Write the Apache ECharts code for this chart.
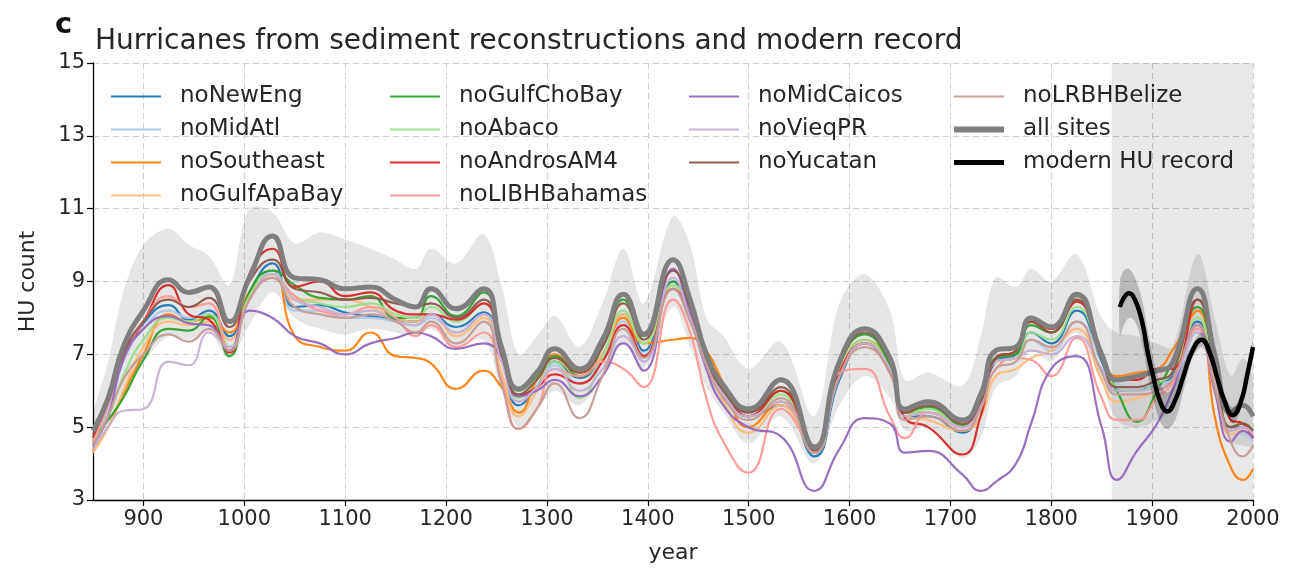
<!DOCTYPE html>
<html><head><meta charset="utf-8">
<script src="https://cdn.jsdelivr.net/npm/echarts@6/dist/echarts.min.js"></script>
<style>html,body{margin:0;padding:0;background:#fff}#c{width:1293px;height:572px}</style>
</head><body><div id="c"></div>
<script>
const years = [850, 865, 880, 900, 925, 945, 965, 985, 1005, 1028, 1050, 1075, 1100, 1125, 1150, 1170, 1185, 1210, 1237, 1255, 1272, 1290, 1308, 1332, 1355, 1376, 1396, 1425, 1442, 1458, 1475, 1500, 1532, 1565, 1590, 1615, 1640, 1655, 1678, 1712, 1730, 1745, 1765, 1780, 1800, 1825, 1850, 1865, 1885, 1905, 1920, 1945, 1962, 1978, 1990, 2000];

const allSites = [4.9, 5.8, 7.2, 8.2, 9.05, 8.7, 8.85, 7.9, 9.1, 10.25, 9.1, 9.05, 8.8, 8.85, 8.5, 8.3, 8.8, 8.25, 8.8, 7.2, 6.05, 6.5, 7.15, 6.6, 7.4, 8.65, 7.55, 9.6, 8.5, 7.0, 6.15, 5.5, 6.3, 4.45, 6.8, 7.7, 6.9, 5.5, 5.7, 5.2, 5.9, 7.1, 7.2, 8.0, 7.75, 8.65, 7.0, 6.3, 6.4, 6.55, 6.75, 8.8, 7.0, 5.4, 5.6, 5.3];
const bandUpper = [5.3, 6.8, 8.7, 10.0, 10.45, 10.0, 9.7, 8.9, 11.0, 10.9, 10.05, 10.35, 10.15, 9.9, 9.6, 9.35, 9.9, 9.5, 10.3, 8.9, 7.0, 7.5, 8.05, 7.2, 8.4, 9.9, 8.4, 10.8, 10.0, 8.0, 7.5, 6.6, 7.35, 5.3, 8.4, 9.2, 8.2, 6.3, 6.5, 6.15, 7.5, 9.1, 8.85, 9.35, 9.0, 9.75, 8.0, 7.6, 7.5, 7.3, 7.2, 9.75, 8.0, 6.4, 6.9, 6.3];
const bandLower = [4.4, 5.0, 6.0, 6.8, 7.5, 7.4, 7.6, 6.9, 7.8, 8.7, 8.0, 7.7, 7.55, 7.7, 7.6, 7.5, 7.7, 7.2, 7.4, 6.0, 5.0, 5.5, 6.0, 5.6, 6.4, 7.3, 6.6, 8.3, 7.2, 6.1, 5.4, 4.55, 5.3, 4.0, 5.6, 6.4, 5.8, 4.9, 5.0, 4.15, 4.7, 6.1, 6.4, 7.1, 6.8, 7.6, 6.2, 5.2, 5.0, 5.2, 5.5, 7.6, 6.0, 4.6, 4.5, 4.5];

const noNewEng = [4.6, 5.6, 6.9, 7.85, 8.35, 7.95, 8.2, 7.5, 8.7, 9.5, 8.3, 8.35, 8.15, 8.05, 7.95, 7.9, 8.1, 7.75, 8.15, 6.9, 5.6, 6.1, 6.8, 6.35, 7.0, 8.1, 7.1, 9.0, 8.0, 6.8, 5.9, 5.3, 5.6, 4.2, 6.3, 7.3, 6.6, 5.3, 5.3, 4.85, 5.6, 6.8, 7.0, 7.6, 7.3, 8.2, 6.8, 6.0, 6.0, 6.2, 6.4, 7.9, 6.5, 5.0, 5.0, 4.9];
const noMidAtl = [4.6, 5.5, 6.8, 7.7, 8.2, 8.0, 8.1, 7.4, 8.5, 9.3, 8.2, 8.2, 8.0, 8.0, 7.9, 7.8, 8.0, 7.6, 8.1, 6.9, 5.7, 6.1, 6.7, 6.2, 6.9, 7.9, 7.0, 8.8, 7.9, 6.8, 5.9, 5.3, 5.7, 4.3, 6.4, 7.3, 6.6, 5.3, 5.4, 5.0, 5.6, 6.8, 6.9, 7.4, 7.1, 7.9, 6.9, 6.2, 6.1, 6.2, 6.3, 7.6, 6.3, 4.8, 4.8, 4.6];
const noSoutheast = [4.35, 5.0, 5.9, 7.0, 8.1, 7.9, 8.0, 7.6, 8.7, 9.2, 7.5, 7.2, 7.1, 7.6, 6.95, 6.9, 6.75, 6.05, 6.55, 6.1, 5.4, 6.3, 7.0, 6.5, 7.0, 8.0, 7.3, 7.4, 7.45, 7.1, 6.2, 5.0, 5.7, 4.3, 6.5, 7.4, 6.7, 5.4, 5.4, 5.0, 5.7, 6.9, 7.1, 7.9, 7.6, 8.5, 7.0, 6.4, 6.5, 6.6, 7.1, 8.2, 5.3, 3.9, 3.55, 3.85];
const noGulfApaBay = [4.3, 5.0, 6.0, 7.2, 7.9, 7.8, 7.9, 7.4, 8.6, 9.2, 8.5, 8.5, 8.5, 8.3, 8.0, 7.9, 8.1, 7.5, 8.0, 6.5, 5.3, 6.0, 6.9, 6.4, 7.0, 8.1, 7.3, 8.9, 8.0, 6.8, 5.7, 4.85, 5.6, 4.3, 6.4, 7.3, 6.6, 5.3, 5.2, 4.9, 5.3, 6.4, 6.6, 6.9, 7.1, 7.7, 6.3, 5.7, 5.8, 6.0, 6.3, 8.0, 6.3, 4.8, 4.9, 4.7];
const noGulfChoBay = [4.7, 5.2, 5.8, 6.85, 7.7, 7.65, 8.05, 6.95, 8.7, 9.3, 8.9, 8.55, 8.5, 8.6, 8.0, 8.0, 8.6, 8.05, 8.7, 7.1, 6.0, 6.4, 6.95, 6.4, 7.2, 8.5, 7.5, 9.0, 8.3, 7.1, 6.1, 5.45, 6.0, 4.35, 6.7, 7.55, 6.7, 5.4, 5.55, 5.05, 5.7, 6.9, 7.0, 7.8, 7.6, 8.6, 6.9, 6.0, 5.15, 6.0, 6.8, 8.3, 6.6, 5.0, 5.1, 4.9];
const noAbaco = [4.6, 5.3, 6.4, 7.4, 8.0, 7.9, 8.1, 7.2, 8.6, 9.2, 8.6, 8.4, 8.3, 8.4, 8.1, 8.0, 8.3, 7.9, 8.4, 7.0, 5.8, 6.3, 6.8, 5.8, 6.9, 8.2, 7.3, 8.9, 8.1, 6.9, 6.0, 5.3, 5.9, 4.3, 6.5, 7.4, 6.6, 5.3, 5.5, 5.0, 5.6, 6.8, 6.9, 7.6, 7.4, 8.3, 6.9, 6.1, 6.0, 6.2, 6.5, 8.0, 6.5, 5.0, 5.1, 4.9];
const noAndrosAM4 = [4.7, 5.8, 6.9, 7.9, 8.9, 8.1, 7.95, 7.05, 9.2, 9.9, 8.85, 9.0, 8.6, 8.7, 8.2, 8.1, 8.1, 7.95, 8.4, 7.0, 5.85, 6.1, 6.45, 6.2, 6.8, 7.8, 6.95, 8.8, 8.1, 6.9, 6.1, 5.3, 6.0, 4.3, 6.5, 7.3, 6.5, 5.25, 5.0, 4.25, 5.3, 6.9, 7.1, 7.9, 7.7, 8.45, 6.9, 6.3, 6.3, 6.6, 6.6, 8.5, 6.8, 5.2, 5.1, 4.7];
const noLIBHBahamas = [4.6, 5.6, 6.9, 7.9, 8.6, 8.3, 8.4, 7.1, 8.5, 9.1, 8.6, 8.2, 8.1, 8.3, 8.0, 7.5, 7.8, 7.2, 7.6, 6.3, 4.95, 5.5, 6.6, 6.4, 6.8, 6.6, 6.1, 8.5, 7.6, 5.8, 4.6, 3.75, 5.5, 4.5, 6.5, 6.6, 5.3, 4.7, 5.4, 5.0, 5.7, 6.6, 6.9, 6.85, 6.4, 7.45, 5.8, 5.2, 5.2, 5.8, 6.2, 7.7, 6.0, 4.9, 5.0, 4.8];
const noMidCaicos = [4.5, 5.3, 6.85, 7.7, 8.05, 7.85, 7.8, 7.1, 8.2, 8.0, 7.5, 7.3, 7.0, 7.3, 7.45, 7.6, 7.5, 7.15, 7.3, 6.9, 5.85, 6.0, 6.3, 5.85, 6.4, 7.3, 6.55, 9.35, 8.1, 6.6, 5.6, 5.0, 4.75, 3.25, 4.4, 5.25, 5.1, 4.3, 4.35, 3.7, 3.25, 3.5, 4.0, 5.1, 6.6, 6.95, 5.0, 3.55, 4.35, 5.1, 6.0, 7.8, 6.0, 4.6, 4.9, 4.7];
const noVieqPR = [4.4, 5.0, 5.45, 5.5, 6.8, 6.7, 7.6, 7.2, 8.5, 9.2, 8.5, 8.3, 8.1, 8.2, 7.9, 7.8, 8.1, 7.6, 8.1, 6.8, 5.7, 6.1, 6.6, 6.0, 6.6, 7.5, 6.8, 9.1, 8.0, 6.8, 5.9, 5.3, 5.7, 4.3, 6.4, 7.3, 6.6, 5.3, 5.4, 5.0, 5.6, 6.8, 6.9, 7.1, 7.0, 7.5, 6.6, 6.0, 6.0, 6.1, 6.3, 7.6, 6.2, 4.9, 5.0, 4.8];
const noYucatan = [4.8, 5.7, 7.0, 7.9, 8.5, 8.3, 8.55, 7.75, 9.0, 9.6, 8.8, 8.7, 8.5, 8.55, 8.4, 8.3, 8.4, 8.0, 8.5, 7.0, 5.9, 6.3, 6.9, 6.5, 7.2, 8.4, 7.4, 9.3, 8.3, 6.9, 6.0, 5.4, 6.1, 4.35, 6.7, 7.6, 6.8, 5.4, 5.6, 5.1, 5.7, 6.9, 7.1, 7.9, 7.6, 8.5, 6.9, 6.1, 6.1, 6.3, 6.5, 8.5, 6.7, 5.0, 5.1, 4.9];
const noLRBHBelize = [4.5, 5.3, 6.3, 7.0, 7.55, 7.35, 7.7, 7.1, 8.5, 9.1, 8.3, 8.1, 8.0, 8.1, 7.9, 7.6, 7.9, 7.3, 7.9, 6.2, 4.95, 5.5, 6.2, 5.25, 6.4, 7.7, 6.9, 8.8, 7.9, 6.7, 5.8, 5.2, 5.8, 4.3, 6.4, 7.2, 6.5, 5.2, 5.3, 4.9, 5.5, 6.6, 6.8, 7.4, 7.2, 7.9, 6.5, 5.9, 5.9, 6.0, 6.3, 7.8, 6.1, 4.6, 4.2, 4.5];

const modernYears = [1868, 1872, 1877, 1883, 1890, 1896, 1901, 1908, 1915, 1923, 1931, 1940, 1949, 1957, 1964, 1972, 1980, 1988, 1994, 2000];
const modernHU = [8.3, 8.55, 8.68, 8.5, 7.9, 7.0, 6.4, 5.7, 5.43, 5.75, 6.4, 7.1, 7.4, 7.05, 6.4, 5.7, 5.33, 5.7, 6.4, 7.2];
const modernUpper = [9.0, 9.3, 9.35, 9.1, 8.5, 7.6, 6.9, 6.2, 5.95, 6.2, 6.75, 7.3, 7.6, 7.25, 6.6, 5.9, 5.55, 5.9, 6.6, 7.4];
const modernLower = [7.5, 7.8, 8.0, 7.9, 7.3, 6.4, 5.8, 5.15, 4.95, 5.2, 6.0, 6.9, 7.2, 6.85, 6.2, 5.5, 5.1, 5.5, 6.2, 7.0];

const shadeStart = 1860, shadeEnd = 2000;

const siteNames = ['noNewEng','noMidAtl','noSoutheast','noGulfApaBay','noGulfChoBay','noAbaco','noAndrosAM4','noLIBHBahamas','noMidCaicos','noVieqPR','noYucatan','noLRBHBelize'];
const siteValues = [noNewEng,noMidAtl,noSoutheast,noGulfApaBay,noGulfChoBay,noAbaco,noAndrosAM4,noLIBHBahamas,noMidCaicos,noVieqPR,noYucatan,noLRBHBelize];
const siteColors = ['#1f77b4','#aec7e8','#ff7f0e','#ffbb78','#2ca02c','#98df8a','#d62728','#ff9896','#9467bd','#c5b0d5','#8c564b','#c49c94'];

const FONT = 'DejaVu Sans';
const P = (xs, ys) => xs.map((x, i) => [x, ys[i]]);
const SM = 0.5;

function bandSeries(name, xs, up, lo, color, z, extra) {
  return Object.assign({
    type: 'custom', name: name, silent: true, z: z, clip: true,
    data: xs.map((x, i) => [x, up[i], lo[i]]),
    encode: { x: 0, y: [1, 2] },
    renderItem: function (params, api) {
      if (params.dataIndex !== 0) return null;
      const top = xs.map((x, i) => api.coord([x, up[i]]));
      const bot = xs.map((x, i) => api.coord([x, lo[i]])).reverse();
      return { type: 'polygon', shape: { points: top.concat(bot), smooth: 0.35 }, style: { fill: color } };
    }
  }, extra || {});
}

const series = [];
series.push(bandSeries('band', years, bandUpper, bandLower, 'rgba(0,0,0,0.1)', 1, {
  markArea: { silent: true, itemStyle: { color: 'rgba(0,0,0,0.09)' }, data: [[{ xAxis: shadeStart }, { xAxis: shadeEnd }]] }
}));
siteNames.forEach((n, i) => {
  series.push({
    type: 'line', name: n, data: P(years, siteValues[i]), symbol: 'none', smooth: SM,
    lineStyle: { color: siteColors[i], width: 2.2, opacity: 0.95 }, itemStyle: { color: siteColors[i] }, z: 3
  });
});
series.push({
  type: 'line', name: 'all sites', data: P(years, allSites), symbol: 'none', smooth: SM,
  lineStyle: { color: '#7f7f7f', width: 5 }, itemStyle: { color: '#7f7f7f' }, z: 4
});
series.push(bandSeries('mband', modernYears, modernUpper, modernLower, 'rgba(0,0,0,0.2)', 5));
series.push({
  type: 'line', name: 'modern HU record', data: P(modernYears, modernHU), symbol: 'none', smooth: SM,
  lineStyle: { color: '#000', width: 4.5 }, itemStyle: { color: '#000' }, z: 6
});

const legendBase = {
  orient: 'vertical', top: 85, itemWidth: 50, itemHeight: 14, itemGap: 10, padding: 0,
  selectedMode: false,
  itemStyle: { opacity: 0 },
  textStyle: { fontSize: 23, fontFamily: FONT, color: '#262626', lineHeight: 23, padding: [0, 0, 0, 14] }
};
const legendCols = [
  ['noNewEng','noMidAtl','noSoutheast','noGulfApaBay'],
  ['noGulfChoBay','noAbaco','noAndrosAM4','noLIBHBahamas'],
  ['noMidCaicos','noVieqPR','noYucatan'],
  ['noLRBHBelize', { name: 'all sites', lineStyle: { width: 6 } }, { name: 'modern HU record', lineStyle: { width: 5 } }]
];
const legendLefts = [110, 389, 688, 951];

const option = {
  animation: false,
  backgroundColor: '#fff',
  title: [
    { text: 'Hurricanes from sediment reconstructions and modern record', left: 90, top: 23,
      textStyle: { fontSize: 28, fontWeight: 'normal', color: '#262626', fontFamily: FONT } },
    { text: 'c', left: 50, top: 6, textStyle: { fontSize: 29, fontWeight: 'bold', color: '#111', fontFamily: FONT } }
  ],
  legend: legendCols.map((d, i) => Object.assign({}, legendBase, { left: legendLefts[i], data: d })),
  grid: { left: 93, right: 40, top: 63, bottom: 72, containLabel: false },
  xAxis: {
    type: 'value', min: 850, max: 2000, splitNumber: 12,
    name: 'year', nameLocation: 'middle', nameGap: 42,
    nameTextStyle: { fontSize: 22, fontFamily: FONT, color: '#262626' },
    axisLine: { lineStyle: { color: '#000', width: 1.3 } },
    axisTick: { length: 6, lineStyle: { color: '#000', width: 1.2 } },
    axisLabel: { fontSize: 21, fontFamily: FONT, color: '#262626', margin: 9, showMinLabel: false,
      formatter: v => String(v) },
    splitLine: { show: true, lineStyle: { type: [6, 4], color: '#cfcfcf', width: 1 } }
  },
  yAxis: {
    type: 'value', min: 3, max: 15, interval: 2,
    name: 'HU count', nameLocation: 'middle', nameGap: 54,
    nameTextStyle: { fontSize: 22, fontFamily: FONT, color: '#262626' },
    axisLine: { show: true, lineStyle: { color: '#000', width: 1.3 } },
    axisTick: { show: true, length: 6, lineStyle: { color: '#000', width: 1.2 } },
    axisLabel: { fontSize: 21, fontFamily: FONT, color: '#262626', margin: 8 },
    splitLine: { show: true, lineStyle: { type: [6, 4], color: '#cfcfcf', width: 1 } }
  },
  series: series
};
const chart = echarts.init(document.getElementById('c'));
chart.setOption(option);
</script>
</body></html>
